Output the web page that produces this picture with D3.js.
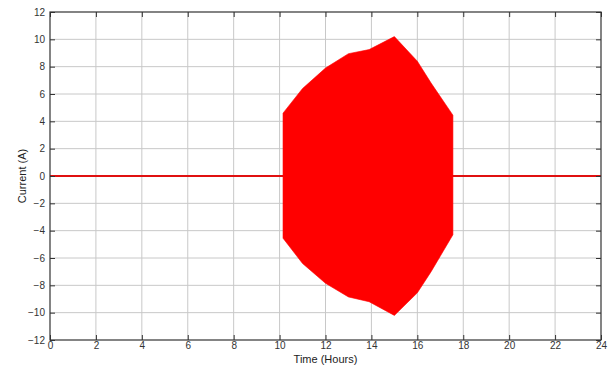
<!DOCTYPE html>
<html>
<head>
<meta charset="utf-8">
<script src="https://cdn.jsdelivr.net/npm/d3@7"></script>
<style>
  html, body { margin: 0; padding: 0; background: #fff; }
  svg { display: block; font-family: "Liberation Sans", Arial, sans-serif; }
</style>
</head>
<body>
<svg id="chart" width="608" height="365"></svg>
<script>
// Envelope of the AC current over the day (hours vs. peak amplitude, A)
const hours = [10.15, 10.15, 11.0, 12.0, 13.0, 13.9, 15.0, 16.0, 16.6, 17.55, 17.55];
const upper = [0, 4.6, 6.4, 7.9, 8.95, 9.25, 10.2, 8.4, 6.8, 4.45, 0];
const lower = [0, -4.55, -6.4, -7.85, -8.85, -9.2, -10.2, -8.55, -7.0, -4.3, 0];
const xTicks = [0, 2, 4, 6, 8, 10, 12, 14, 16, 18, 20, 22, 24];
const yTicks = [-12, -10, -8, -6, -4, -2, 0, 2, 4, 6, 8, 10, 12];

const svg = d3.select("#chart");
const plotL = 50, plotR = 601, plotT = 12, plotB = 340;

const x = d3.scaleLinear().domain([0, 24]).range([plotL, plotR]);
const y = d3.scaleLinear().domain([-12, 12]).range([plotB, plotT]);

// grid
svg.append("g").selectAll("line").data(xTicks.slice(1, -1)).join("line")
  .attr("x1", d => x(d)).attr("x2", d => x(d))
  .attr("y1", plotT).attr("y2", plotB)
  .attr("stroke", "#c8c8c8").attr("stroke-width", 1);
svg.append("g").selectAll("line").data(yTicks.slice(1, -1)).join("line")
  .attr("y1", d => y(d)).attr("y2", d => y(d))
  .attr("x1", plotL).attr("x2", plotR)
  .attr("stroke", "#c8c8c8").attr("stroke-width", 1);

// zero-current trace
svg.append("line")
  .attr("x1", x(0)).attr("x2", x(24))
  .attr("y1", y(0)).attr("y2", y(0))
  .attr("stroke", "#e01010").attr("stroke-width", 2);

// filled oscillation envelope
const pts = hours.map((h, i) => ({ h, u: upper[i], l: lower[i] }));
const area = d3.area()
  .x(d => x(d.h))
  .y0(d => y(d.l))
  .y1(d => y(d.u));
svg.append("path").datum(pts)
  .attr("d", area)
  .attr("fill", "#ff0000")
  .attr("stroke", "#ff0000")
  .attr("stroke-width", 0.6);

// axes with inward ticks on all four sides
const tickLen = 5;
const axisColor = "#333";
svg.append("g").attr("transform", `translate(0,${plotB})`)
  .call(d3.axisBottom(x).tickValues(xTicks).tickSizeInner(-tickLen).tickSizeOuter(0).tickPadding(2))
  .call(g => g.select(".domain").remove());
svg.append("g").attr("transform", `translate(0,${plotT})`)
  .call(d3.axisTop(x).tickValues(xTicks).tickSizeInner(-tickLen).tickSizeOuter(0).tickFormat(""))
  .call(g => g.select(".domain").remove());
svg.append("g").attr("transform", `translate(${plotL},0)`)
  .call(d3.axisLeft(y).tickValues(yTicks).tickSizeInner(-tickLen).tickSizeOuter(0).tickPadding(5))
  .call(g => g.select(".domain").remove());
svg.append("g").attr("transform", `translate(${plotR},0)`)
  .call(d3.axisRight(y).tickValues(yTicks).tickSizeInner(-tickLen).tickSizeOuter(0).tickFormat(""))
  .call(g => g.select(".domain").remove());

svg.selectAll(".tick line").attr("stroke", axisColor);
svg.selectAll(".tick text").attr("fill", "#333").attr("font-size", 10)
  .attr("font-family", "Liberation Sans, Arial, sans-serif");

// frame
svg.append("rect")
  .attr("x", plotL).attr("y", plotT)
  .attr("width", plotR - plotL).attr("height", plotB - plotT)
  .attr("fill", "none").attr("stroke", axisColor).attr("stroke-width", 1.2);

// axis titles
svg.append("text")
  .attr("x", x(12)).attr("y", 363)
  .attr("text-anchor", "middle").attr("font-size", 11).attr("fill", "#222")
  .text("Time (Hours)");
svg.append("text")
  .attr("transform", `translate(26,${y(0)}) rotate(-90)`)
  .attr("text-anchor", "middle").attr("font-size", 11).attr("fill", "#222")
  .text("Current (A)");
</script>
</body>
</html>
